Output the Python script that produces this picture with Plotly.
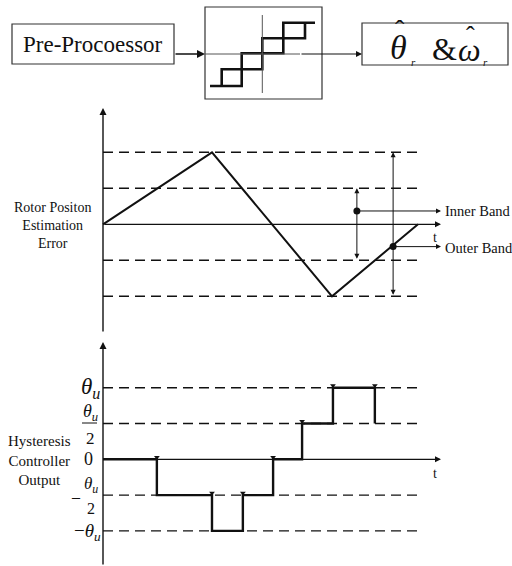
import plotly.graph_objects as go

# ---------------- data ----------------
# rotor position estimation error (triangle wave), time in arbitrary units
err_t = [0.0, 3.46, 7.27, 10.0]
err_v = [0.0, 2.0, -2.0, 0.0]
err_bands = [2.0, 1.0, -1.0, -2.0]          # outer / inner band levels
band_t_end = 10.0
t_axis_end = 10.73

# hysteresis controller output (in units of theta_u)
step_t = [0.0, 1.71, 3.46, 4.44, 5.40, 6.32, 7.30, 8.63]
step_v = [0.0, -0.5, -1.0, -0.5, 0.0, 0.5, 1.0, 0.5]
out_levels = [1.0, 0.5, -0.5, -1.0]

# band indicator positions
inner_t, inner_dot = 8.06, 0.37
outer_t, outer_dot = 9.21, -0.62

# block diagram (pixel coordinates of the sketch)
box_pre = [12, 24, 174, 64]
box_hyst = [205, 7, 322, 99]
box_out = [362, 23, 508, 65]
stair_a_x = [210, 241.7, 241.7, 283.3, 283.3, 315]
stair_a_y = [86, 86, 53.3, 53.3, 22.7, 22.7]
stair_b_x = [221.7, 221.7, 262.3, 262.3, 305, 305]
stair_b_y = [86, 69.3, 69.3, 38.3, 38.3, 22.7]

# ---------------- scales ----------------
W, H = 512, 566
X0, PX_PER_T = 103.0, 31.5
Y0_ERR, PX_PER_ERR = 224.3, 36.0
Y0_OUT, PX_PER_OUT = 459.3, 71.6

t_range = [(0 - X0) / PX_PER_T, (W - X0) / PX_PER_T]
err_range = [(Y0_ERR - H) / PX_PER_ERR, Y0_ERR / PX_PER_ERR]
out_range = [(Y0_OUT - H) / PX_PER_OUT, Y0_OUT / PX_PER_OUT]

FONT = "Liberation Serif"
INK = "#111111"

fig = go.Figure()

# triangle wave
fig.add_trace(go.Scatter(x=err_t, y=err_v, mode="lines",
                         line=dict(color=INK, width=2), xaxis="x", yaxis="y"))
# hysteresis output
fig.add_trace(go.Scatter(x=step_t, y=step_v, mode="lines", line_shape="hv",
                         line=dict(color=INK, width=2.4), xaxis="x", yaxis="y2"))
mk_x = step_t[1:]
mk_y = [max(step_v[i - 1], step_v[i]) + 0.03 for i in range(1, len(step_v))]
fig.add_trace(go.Scatter(x=mk_x, y=mk_y, mode="markers",
                         marker=dict(symbol="triangle-down", size=5, color=INK),
                         xaxis="x", yaxis="y2"))
# band dots
fig.add_trace(go.Scatter(x=[inner_t, outer_t], y=[inner_dot, outer_dot], mode="markers",
                         marker=dict(symbol="circle", size=7, color=INK),
                         xaxis="x", yaxis="y"))
# staircase icon
for sx, sy in [(stair_a_x, stair_a_y), (stair_b_x, stair_b_y)]:
    fig.add_trace(go.Scatter(x=sx, y=sy, mode="lines",
                             line=dict(color=INK, width=2.6), xaxis="x3", yaxis="y3"))

shapes = []
# dashed band lines
for lv in err_bands:
    shapes.append(dict(type="line", xref="x", yref="y", x0=0, x1=band_t_end, y0=lv, y1=lv,
                       line=dict(color=INK, width=1.4, dash="10px,6px")))
for lv in out_levels:
    shapes.append(dict(type="line", xref="x", yref="y2", x0=0, x1=band_t_end, y0=lv, y1=lv,
                       line=dict(color=INK, width=1.4, dash="10px,6px")))
# boxes
for b in [box_pre, box_hyst, box_out]:
    shapes.append(dict(type="rect", xref="x3", yref="y3", x0=b[0], y0=b[1], x1=b[2], y1=b[3],
                       line=dict(color="#333", width=1.2)))
# axes inside hysteresis icon
shapes.append(dict(type="line", xref="x3", yref="y3", x0=205, x1=300, y0=54, y1=54,
                   line=dict(color="#555", width=1)))
shapes.append(dict(type="line", xref="x3", yref="y3", x0=262.3, x1=262.3, y0=15, y1=93,
                   line=dict(color="#555", width=1)))
# fraction bar for theta_u/2
shapes.append(dict(type="line", xref="x3", yref="y3", x0=82, x1=97, y0=423, y1=423,
                   line=dict(color=INK, width=1)))

ann = []
def arrow(x, y, ax, ay, xr, yr, side="end", w=1.2):
    ann.append(dict(x=x, y=y, ax=ax, ay=ay, xref=xr, yref=yr, axref=xr, ayref=yr,
                    text="", showarrow=True, arrowhead=2, arrowsize=1, arrowwidth=w,
                    arrowcolor=INK, arrowside=side, startarrowhead=2, startarrowsize=1))

# plot axes
arrow(0, (Y0_ERR - 108) / PX_PER_ERR, 0, (Y0_ERR - 333) / PX_PER_ERR, "x", "y", w=1.4)
arrow(t_axis_end, 0, 0, 0, "x", "y", w=1.2)
arrow(0, (Y0_OUT - 342) / PX_PER_OUT, 0, out_range[0], "x", "y2", w=1.4)
arrow(t_axis_end, 0, 0, 0, "x", "y2", w=1.2)
# band indicators
arrow(inner_t, 1, inner_t, -1, "x", "y", side="end+start", w=1)
arrow(outer_t, 2, outer_t, -2, "x", "y", side="end+start", w=1)
arrow(t_axis_end, inner_dot, inner_t, inner_dot, "x", "y", w=1)
arrow(t_axis_end, outer_dot, outer_t, outer_dot, "x", "y", w=1)
# block diagram arrows
arrow(205, 54, 174, 54, "x3", "y3", w=1.6)
arrow(362, 54, 300, 54, "x3", "y3", w=1.2)

def txt(x, y, s, size, xr="x3", yr="y3", xanchor="center", italic=False, family=FONT):
    ann.append(dict(x=x, y=y, xref=xr, yref=yr, text=s, showarrow=False,
                    xanchor=xanchor, yanchor="middle",
                    font=dict(family=family, size=size, color=INK,
                              style="italic" if italic else "normal")))

txt(93, 44, "Pre-Procoessor", 23)
# output box: theta-hat_r & omega-hat_r
txt(398, 47, "θ", 34, italic=True)
txt(400, 29, "ˆ", 28)
txt(413, 62, "r", 11, italic=True)
txt(444, 49, "&amp;", 32)
txt(469, 50, "ω", 32, italic=True)
txt(470, 35, "ˆ", 26)
txt(485, 62, "r", 11, italic=True)

# panel labels
txt(52, 225, "Rotor Positon<br>Estimation<br>Error", 14)
txt(39, 460, "Hysteresis<br>Controller<br>Output", 15)
txt(10.55, -0.36, "t", 14, xr="x", yr="y")
txt(10.55, -0.2, "t", 14, xr="x", yr="y2")
txt(443, 211, "Inner Band", 14.5, xanchor="left")
txt(443, 248, "Outer Band", 14.5, xanchor="left")

# output level labels
txt(90, 388, "<i>θ</i><sub><i>u</i></sub>", 23)
txt(90, 412, "<i>θ</i><sub><i>u</i></sub>", 18)
txt(90, 438, "2", 17)
txt(88, 459, "0", 18)
txt(76, 496, "–", 16)
txt(91, 485, "<i>θ</i><sub><i>u</i></sub>", 17)
txt(91, 508, "2", 16)
txt(87, 532, "−<i>θ</i><sub><i>u</i></sub>", 19)

fig.update_layout(
    width=W, height=H, margin=dict(l=0, r=0, t=0, b=0),
    paper_bgcolor="white", plot_bgcolor="white", showlegend=False,
    xaxis=dict(domain=[0, 1], range=t_range, visible=False, fixedrange=True),
    yaxis=dict(domain=[0, 1], range=err_range, visible=False, fixedrange=True),
    yaxis2=dict(range=out_range, overlaying="y", anchor="x", visible=False),
    xaxis3=dict(range=[0, W], overlaying="x", anchor="y3", visible=False),
    yaxis3=dict(range=[H, 0], overlaying="y", anchor="x3", visible=False),
    shapes=shapes, annotations=ann,
)
fig.write_html("out.html", config={"displayModeBar": False},
               post_script="document.body.style.margin='0';")
